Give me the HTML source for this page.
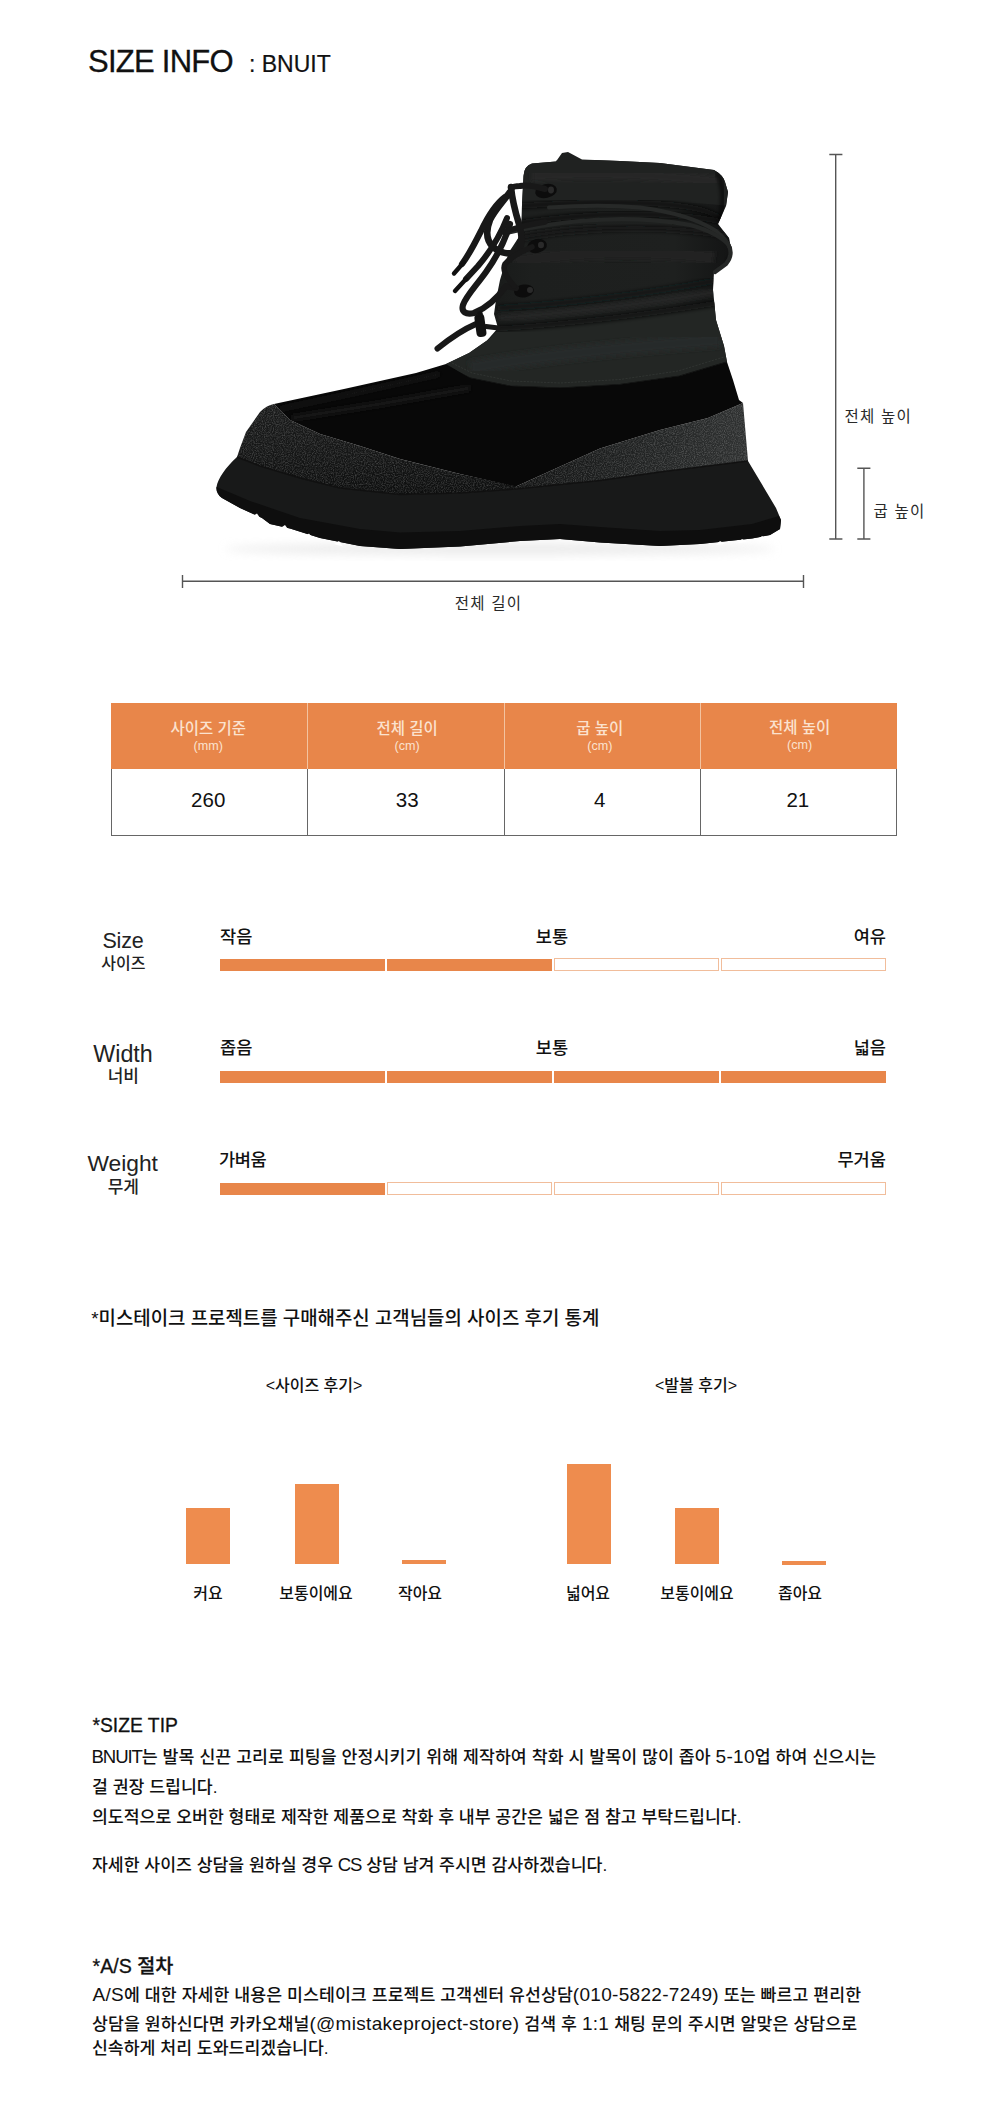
<!DOCTYPE html>
<html lang="ko">
<head>
<meta charset="utf-8">
<title>SIZE INFO : BNUIT</title>
<style>
html,body{margin:0;padding:0;background:#fff;}
body{width:1000px;height:2123px;position:relative;overflow:hidden;color:#111;
  font-family:"Liberation Sans","Noto Sans CJK KR",sans-serif;}
.t{position:absolute;white-space:nowrap;line-height:1;margin:0;}
.k{font-family:"Liberation Sans","Noto Sans CJK KR",sans-serif;}
#title{left:88px;top:46px;font-size:31px;letter-spacing:-0.75px;-webkit-text-stroke:0.3px #111;}
#sub{left:249px;top:53px;font-size:23px;-webkit-text-stroke:0.2px #111;}
/* table */
#tbl{position:absolute;left:111px;top:703px;width:786px;height:132px;box-sizing:border-box;}
.th{position:absolute;top:0;height:66px;background:#e8864a;}
.tb{position:absolute;left:0;top:66px;width:786px;height:66.5px;box-sizing:border-box;border:1px solid #666;border-top:none;}
.vd{position:absolute;top:66px;width:1px;height:66px;background:#666;}
/* bars */
.seg{position:absolute;height:12px;box-sizing:border-box;width:164.7px;}
.seg.f{background:#e8864a;}
.seg.e{border:1.2px solid #f1bd9b;background:#fff;height:13.3px;width:165.5px;}
.bar{position:absolute;background:#ee8c4e;}

.h1{font-size:15.5px;font-weight:500;text-align:center;color:#fbe2cf;}
.h2{font-size:12.6px;text-align:center;color:#fbe2cf;}
.vl{position:absolute;top:0;width:1px;height:66px;background:#f3c3a0;}
.num{font-size:20.5px;text-align:center;color:#111;}
.en{font-size:21px;text-align:center;color:#222;}
.ko{font-size:15px;text-align:center;color:#222;font-weight:500;}
.lab{font-size:17.6px;font-weight:500;color:#111;}
#stitle{font-size:18.9px;font-weight:500;color:#111;}
.cap{font-size:16px;text-align:center;font-weight:500;color:#111;}
.bl{font-size:16px;text-align:center;font-weight:500;color:#111;}
.hd{font-size:19.3px;font-weight:500;color:#111;-webkit-text-stroke:0.3px #111;}
.p{font-size:17.25px;color:#111;font-weight:500;}
.lu{font-size:18.6px;letter-spacing:-1.1px;line-height:0;}
.l{font-size:19px;letter-spacing:0.3px;line-height:0;}
.dim{font-size:15.5px;color:#2a2a2a;letter-spacing:1.2px;}
</style>
</head>
<body>
<div class="t" id="title">SIZE INFO</div>
<div class="t" id="sub">: BNUIT</div>

<svg id="boot" width="1000" height="660" viewBox="0 0 1000 660" style="position:absolute;left:0;top:0;">
  <defs>
    <filter id="grain" color-interpolation-filters="sRGB" x="0" y="0" width="100%" height="100%">
      <feTurbulence type="fractalNoise" baseFrequency="0.9" numOctaves="2" seed="3" result="n"/>
      <feColorMatrix in="n" type="matrix" values="0 0 0 0 1  0 0 0 0 1  0 0 0 0 1  0.42 0 0 0 -0.16" result="a"/>
      <feComposite in="a" in2="SourceGraphic" operator="in" result="sp"/>
      <feMerge><feMergeNode in="SourceGraphic"/><feMergeNode in="sp"/></feMerge>
    </filter>
    <filter id="soft" x="-20%" y="-50%" width="140%" height="200%"><feGaussianBlur stdDeviation="5"/></filter>
    <filter id="b1" x="-10%" y="-10%" width="120%" height="120%"><feGaussianBlur stdDeviation="2.2"/></filter>
    <linearGradient id="shaftg" x1="0" y1="0" x2="1" y2="0">
      <stop offset="0" stop-color="#141615"/><stop offset="0.3" stop-color="#1d1f1e"/><stop offset="0.8" stop-color="#1e201f"/><stop offset="1" stop-color="#131414"/>
    </linearGradient>
    <linearGradient id="wedgeg" x1="516" y1="0" x2="748" y2="0" gradientUnits="userSpaceOnUse"><stop offset="0" stop-color="#131414"/><stop offset="0.6" stop-color="#232525"/><stop offset="1" stop-color="#2f3131"/></linearGradient>
    <linearGradient id="capg" x1="0" y1="404" x2="0" y2="495" gradientUnits="userSpaceOnUse"><stop offset="0" stop-color="#1b1c1c"/><stop offset="0.55" stop-color="#151616"/><stop offset="1" stop-color="#0d0e0e"/></linearGradient>
    <clipPath id="shaftclip"><path id="shaftp" d="M446,364 L469,353 L487,340.5 L498,328 L494,314 L496,300 L500,280 L506,260 L511,249 L521,234 L522,205 L523.5,176 Q524,166 532,163.5 L556,161.5 L562,153 L568,152 L582,159.5 L620,161 L660,163 L714,170 Q723,175 725,182 L728,192 L726,206 L718,224 L729,238 L732,254 L726,264 L714,272 L713,290 L714,300 L716,320 L724,346 L727,362 L680,376 L620,384.5 L560,388 L510,386 L470,378 Z"/></clipPath>
  </defs>
  <!-- ground shadow -->
  <ellipse cx="500" cy="549" rx="275" ry="6" fill="#dcdcdc" filter="url(#soft)" opacity="0.55"/>
  <!-- sole -->
  <path d="M216.5,487 C218,478 226,467 237,457 L260,466 L300,478 L340,488 L400,494.5 L460,493 L516,489 L600,480.5 L660,472 L748,461 L776,508 L781,520 L780,529 L770,535 L752,538.5 L700,544 L660,546 L600,542.5 L560,539 L520,541 L460,546.5 L400,549 L360,546 L320,538 L290,528.5 L270,524 L262,518 L240,508 L222,498 C218,495 216,491 216.5,487 Z" fill="#181919"/>
  <!-- outsole rough band -->
  <path d="M216.5,487 L224,490 L250,501 L300,518 L360,529 L400,532.5 L460,531 L520,526 L560,524 L600,527 L660,531 L700,530 L752,524 L779,516 L781,520 L780,529 L770,535 L752,538.5 L700,544 L660,546 L600,542.5 L560,539 L520,541 L460,546.5 L400,549 L360,546 L320,538 L290,528.5 L270,524 L262,518 L240,508 L222,498 C218,495 216,491 216.5,487 Z" fill="#0e0e0e"/>
  <!-- lug notches -->
  <g fill="#fff">
    <path d="M251,517 L257,513.5 L262,521 Z"/>
    <path d="M279,529 L285,525 L290,532 Z"/>
    <path d="M304,537 L309,533.5 L314,540 Z"/>
    <path d="M334,544 L339,541 L343,546.5 Z"/>
    <path d="M716,545 L720,541 L725,544 Z"/>
    <path d="M738,543 L742,539 L747,542 Z"/>
    <path d="M758,540 L762,536 L767,538.5 Z"/>
  </g>
  <!-- toe cap (textured) -->
  <path d="M237,457 L240,448 L246,432 L260,412 Q267,405 274,404 L290,420 L320,434 L360,446 L400,459 L460,474 L516,486 L516,489 L460,493 L400,494.5 L340,488 L300,478 L260,466 Z" fill="url(#capg)" filter="url(#grain)"/>
  <!-- heel wedge -->
  <path d="M516,486.5 L600,448.5 L660,430 L708,418 L743,403 L748,461 L660,472 L600,480.5 L516,489 Z" fill="url(#wedgeg)" filter="url(#grain)"/>
  <path d="M237,457 L260,466 L300,478 L340,488 L400,494.5 L460,493 L516,489 L600,480.5 L660,472 L748,461" stroke="#101010" stroke-width="1.6" fill="none"/>
  <!-- suede -->
  <path d="M274,404 L344,389 L416,373 L446,364 L600,370 L727,362 L733,380 L739,400 L743,403 L708,418 L660,430 L600,448.5 L516,486.5 L460,474 L400,459 L360,446 L320,434 L290,420 Z" fill="#080808"/>
  <path d="M280,409 L350,394 L440,374" stroke="#1c1c1c" stroke-width="3" fill="none" filter="url(#b1)"/>
  <path d="M292,418 L380,404 L470,388" stroke="#161616" stroke-width="6" fill="none" filter="url(#b1)"/>
  <!-- shaft -->
  <use href="#shaftp" fill="url(#shaftg)"/>
  <g clip-path="url(#shaftclip)">
    <!-- top collar band -->
    <path d="M520,160 L730,160 L730,206 Q640,196 520,204 Z" fill="#202221"/>
    <path d="M532,176 Q620,170 720,182" stroke="#252726" stroke-width="12" fill="none" filter="url(#b1)"/>
    <!-- dark under top band -->
    <path d="M520,206 Q600,200 660,204 T726,226" stroke="#101111" stroke-width="5" fill="none" filter="url(#b1)"/>
    <!-- gap between cords -->
    <path d="M512,224 Q600,210 680,216 T730,244" stroke="#0f1010" stroke-width="5" fill="none" filter="url(#b1)"/>
    <!-- dark under cord 2 -->
    <path d="M506,240 Q600,222 690,230 T728,262" stroke="#121313" stroke-width="6" fill="none" filter="url(#b1)"/>
    <!-- mid panel light -->
    <path d="M514,262 Q610,246 714,258" stroke="#222423" stroke-width="14" fill="none" filter="url(#b1)"/>
    <!-- collar flap lighter band -->
    <path d="M440,366 L470,350 L490,338 L500,328 Q600,322 716,302 L735,365 L680,378 L620,386 L560,390 L510,388 L470,380 Z" fill="#232624"/>
    <path d="M470,368 Q560,352 720,340" stroke="#282b29" stroke-width="14" fill="none" filter="url(#b1)"/>
    <!-- folds -->
    <path d="M498,308 Q600,302 714,281" stroke="#111212" stroke-width="4" fill="none" filter="url(#b1)"/>
    <path d="M498,318 Q600,311 716,292" stroke="#252726" stroke-width="5" fill="none" filter="url(#b1)"/>
    <path d="M496,329 Q600,322 718,303" stroke="#0f1010" stroke-width="4.5" fill="none" filter="url(#b1)"/>
    <!-- right edge strap shadow -->
    <path d="M716,172 Q727,186 720,222" stroke="#0e0e0e" stroke-width="3" fill="none" filter="url(#b1)"/>
    <!-- collar bottom edge -->
    <path d="M446,367 L470,379 L510,387 L560,389 L620,385.5 L680,377 L727,363" stroke="#0c0c0c" stroke-width="3" fill="none"/>
    <path d="M452,363 L472,373 L511,381 L560,383 L620,379.5 L678,371 L724,357" stroke="#343735" stroke-width="0.8" fill="none" stroke-dasharray="2.2 1.2"/>
  </g>
  <!-- wrap cords on shaft -->
  <path d="M549,207.5 Q600,204 640,207.5 Q690,214 716,231 Q727,240 730,248" stroke="#272928" stroke-width="4" fill="none" stroke-linecap="round"/>
  <path d="M506,233 Q540,225 580,221 Q640,216 690,225 Q716,232 728,244 Q734,254 726,264 L715,272" stroke="#252726" stroke-width="4.2" fill="none" stroke-linecap="round"/>
  <!-- eyelets -->
  <ellipse cx="546" cy="191" rx="11" ry="7" fill="#0c0c0c" transform="rotate(-12 546 191)"/>
  <ellipse cx="551" cy="190" rx="3" ry="3.4" fill="#2a2a2a"/>
  <ellipse cx="537" cy="246" rx="10" ry="7" fill="#0c0c0c" transform="rotate(-12 537 246)"/>
  <ellipse cx="541" cy="245" rx="3" ry="3.2" fill="#2a2a2a"/>
  <ellipse cx="524" cy="291" rx="10" ry="6.5" fill="#0c0c0c" transform="rotate(-8 524 291)"/>
  <ellipse cx="530" cy="290" rx="3" ry="3" fill="#2a2a2a"/>
  <!-- front laces -->
  <g fill="none" stroke="#181818" stroke-linecap="round" stroke-linejoin="round">
    <path d="M545,189 Q528,184 520,186 Q514,186 511,188" stroke-width="6"/>
    <path d="M511,187 C512,198 515,211 519,224 C523,238 523,247 516,252 C509,255 500,253 493,247 C486,240 486,230 490,220 C494,211 502,203 510,192" stroke-width="6.6"/>
    <path d="M505,197 C497,203 489,214 481,231 C473,247 468,256 462,264" stroke-width="6.2"/>
    <path d="M464,262 L454,273.5" stroke-width="4.4" stroke="#101010"/>
    <path d="M507,218 C500,236 490,252 478,266 L466,279" stroke-width="6"/>
    <path d="M466,279 L455,291" stroke-width="4.4" stroke="#101010"/>
    <path d="M510,224 C504,244 496,258 486,272 C476,286 466,296 463,305 C461,312 466,315 474,313 C484,309 496,300 506,286 L516,288" stroke-width="6.2"/>
    <path d="M532,247 C520,252 510,258 505,264 C502,270 506,276 510,281 L514,286" stroke-width="5.6"/>
    <path d="M504,232 Q520,226 545,222" stroke-width="5.6"/>
    <path d="M498.5,328 L486,326.5" stroke-width="5"/>
    <path d="M476,324 C462,330 448,340 437.5,348.5" stroke-width="6"/>
  </g>
  <rect x="475.5" y="314" width="10" height="23" rx="4" fill="#121212" transform="rotate(-8 480 326)"/>
  <circle cx="480" cy="314" r="2.8" fill="#121212"/>
  <!-- dimension lines -->
  <g stroke="#555" stroke-width="1.4" fill="none">
    <path d="M182.5,581.2 H803.5 M182.5,575 V588 M803.5,575 V588"/>
    <path d="M835.7,154.5 V539 M829.3,154.5 H842.4 M829.3,539 H842.4"/>
    <path d="M863.9,468.3 V539 M857.3,468.3 H870.4 M857.3,539 H870.4"/>
  </g>
</svg>
<div class="t dim" style="left:844.5px;top:409px;">전체 높이</div>
<div class="t dim" style="left:873.5px;top:503.5px;">굽 높이</div>
<div class="t dim" style="left:388.5px;width:200px;text-align:center;top:596px;">전체 길이</div>


<div id="tbl">
  <div class="th" style="left:0;width:786px;"></div>
  <div class="vl" style="left:196.0px;"></div>
  <div class="vl" style="left:393.0px;"></div>
  <div class="vl" style="left:589.0px;"></div>
  <div class="tb"></div>
  <div class="vd" style="left:196.0px;"></div>
  <div class="vd" style="left:393.0px;"></div>
  <div class="vd" style="left:589.0px;"></div>
  <div class="t h1" style="left:37.2px;width:120px;top:17.5px;">사이즈 기준</div><div class="t h2" style="left:37.2px;width:120px;top:37px;">(mm)</div><div class="t num" style="left:37.2px;width:120px;top:86.5px;">260</div>
  <div class="t h1" style="left:236.2px;width:120px;top:17.5px;">전체 길이</div><div class="t h2" style="left:236.2px;width:120px;top:37px;">(cm)</div><div class="t num" style="left:236.2px;width:120px;top:86.5px;">33</div>
  <div class="t h1" style="left:428.8px;width:120px;top:17.5px;">굽 높이</div><div class="t h2" style="left:428.8px;width:120px;top:37px;">(cm)</div><div class="t num" style="left:428.8px;width:120px;top:86.5px;">4</div>
  <div class="t h1" style="left:628.7px;width:120px;top:16.5px;">전체 높이</div><div class="t h2" style="left:628.7px;width:120px;top:36px;">(cm)</div><div class="t num" style="left:626.8px;width:120px;top:86.5px;">21</div>
</div>

<div class="t en" style="left:63px;width:120px;top:930.5px;font-size:21.5px;letter-spacing:-0.2px;">Size</div>
<div class="t ko" style="left:63.3px;width:120px;top:955.5px;font-size:16px;">사이즈</div>
<div class="t lab" style="left:220px;top:929px;">작음</div>
<div class="t lab" style="left:502px;width:100px;text-align:center;top:929px;">보통</div>
<div class="t lab" style="right:114px;top:929px;">여유</div>
<div class="seg f" style="left:220px;top:958.7px;"></div>
<div class="seg f" style="left:387px;top:958.7px;"></div>
<div class="seg e" style="left:553.8px;top:958.1px;"></div>
<div class="seg e" style="left:720.8px;top:958.1px;"></div>
<div class="t en" style="left:63px;width:120px;top:1042.5px;font-size:23.3px;">Width</div>
<div class="t ko" style="left:63.3px;width:120px;top:1067.5px;font-size:17px;">너비</div>
<div class="t lab" style="left:220px;top:1039.5px;">좁음</div>
<div class="t lab" style="left:502px;width:100px;text-align:center;top:1039.5px;">보통</div>
<div class="t lab" style="right:114px;top:1039.5px;">넓음</div>
<div class="seg f" style="left:220px;top:1070.7px;"></div>
<div class="seg f" style="left:387px;top:1070.7px;"></div>
<div class="seg f" style="left:554px;top:1070.7px;"></div>
<div class="seg f" style="left:721px;top:1070.7px;"></div>
<div class="t en" style="left:62.7px;width:120px;top:1151.5px;font-size:22.8px;">Weight</div>
<div class="t ko" style="left:63.3px;width:120px;top:1178.5px;font-size:17px;">무게</div>
<div class="t lab" style="left:219px;top:1151.5px;letter-spacing:-0.4px;">가벼움</div>
<div class="t lab" style="right:114px;top:1151.5px;">무거움</div>
<div class="seg f" style="left:220px;top:1182.6px;"></div>
<div class="seg e" style="left:386.8px;top:1182px;"></div>
<div class="seg e" style="left:553.8px;top:1182px;"></div>
<div class="seg e" style="left:720.8px;top:1182px;"></div>


<div class="t" id="stitle" style="left:91.2px;top:1310px;">*미스테이크 프로젝트를 구매해주신 고객님들의 사이즈 후기 통계</div>
<div class="t cap" style="left:214px;width:200px;top:1377.5px;">&lt;사이즈 후기&gt;</div>
<div class="t cap" style="left:596px;width:200px;top:1377.5px;">&lt;발볼 후기&gt;</div>
<div class="bar" style="left:186px;top:1508px;width:44px;height:56px;"></div>
<div class="bar" style="left:294.5px;top:1483.7px;width:44px;height:80px;"></div>
<div class="bar" style="left:401.5px;top:1560.3px;width:44px;height:4px;"></div>
<div class="bar" style="left:566.5px;top:1464.3px;width:44px;height:100px;"></div>
<div class="bar" style="left:675px;top:1508px;width:44px;height:56px;"></div>
<div class="bar" style="left:782px;top:1560.5px;width:44px;height:4px;"></div>
<div class="t bl" style="left:108px;width:200px;top:1586px;">커요</div>
<div class="t bl" style="left:216px;width:200px;top:1586px;">보통이에요</div>
<div class="t bl" style="left:320px;width:200px;top:1586px;">작아요</div>
<div class="t bl" style="left:488px;width:200px;top:1586px;">넓어요</div>
<div class="t bl" style="left:597px;width:200px;top:1586px;">보통이에요</div>
<div class="t bl" style="left:700px;width:200px;top:1586px;">좁아요</div>


<div class="t hd" style="left:92.5px;top:1716px;">*SIZE TIP</div>
<div class="t p" id="p1" style="left:91.5px;top:1749px;letter-spacing:0.08px;"><span class="lu">BNUIT</span>는 발목 신끈 고리로 피팅을 안정시키기 위해 제작하여 착화 시 발목이 많이 좁아 <span class="l">5-10</span>업 하여 신으시는</div>
<div class="t p" id="p2" style="left:92px;top:1779px;">걸 권장 드립니다.</div>
<div class="t p" id="p3" style="left:92px;top:1809px;">의도적으로 오버한 형태로 제작한 제품으로 착화 후 내부 공간은 넓은 점 참고 부탁드립니다.</div>
<div class="t p" id="p4" style="left:92px;top:1857px;letter-spacing:-0.02px;">자세한 사이즈 상담을 원하실 경우 <span class="lu">CS</span> 상담 남겨 주시면 감사하겠습니다.</div>
<div class="t hd" style="left:92.5px;top:1956.5px;font-size:19.6px;">*A/S 절차</div>
<div class="t p" id="q1" style="left:92.5px;top:1987px;letter-spacing:0.08px;"><span class="l">A/S</span>에 대한 자세한 내용은 미스테이크 프로젝트 고객센터 유선상담<span class="l">(010-5822-7249)</span> 또는 빠르고 편리한</div>
<div class="t p" id="q2" style="left:92px;top:2016px;letter-spacing:0.1px;">상담을 원하신다면 카카오채널<span class="l">(@mistakeproject-store)</span> 검색 후 <span class="l">1:1</span> 채팅 문의 주시면 알맞은 상담으로</div>
<div class="t p" id="q3" style="left:92px;top:2040px;">신속하게 처리 도와드리겠습니다.</div>
</body>
</html>
